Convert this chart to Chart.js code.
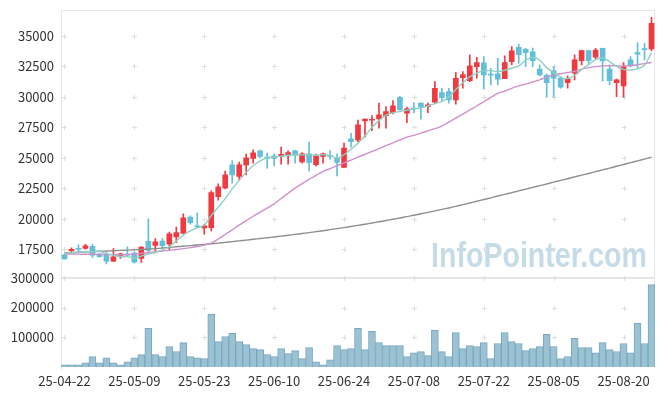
<!DOCTYPE html>
<html>
<head>
<meta charset="utf-8">
<script src="https://cdn.jsdelivr.net/npm/chart.js@4.4.1/dist/chart.umd.min.js"></script>
<style>
  html, body { margin: 0; padding: 0; background: #fff; }
  #wrap { width: 665px; height: 396px; }
</style>
</head>
<body>
<div id="wrap"><canvas id="chart" width="665" height="396"></canvas></div>
<script>
const dates = [
  '25-04-22','25-04-23','25-04-24','25-04-25','25-04-28','25-04-29','25-04-30','25-05-02','25-05-07','25-05-08',
  '25-05-09','25-05-12','25-05-13','25-05-14','25-05-15','25-05-16','25-05-19','25-05-20','25-05-21','25-05-22',
  '25-05-23','25-05-26','25-05-27','25-05-28','25-05-29','25-05-30','25-06-02','25-06-04','25-06-05','25-06-09',
  '25-06-10','25-06-11','25-06-12','25-06-13','25-06-16','25-06-17','25-06-18','25-06-19','25-06-20','25-06-23',
  '25-06-24','25-06-25','25-06-26','25-06-27','25-06-30','25-07-01','25-07-02','25-07-03','25-07-04','25-07-07',
  '25-07-08','25-07-09','25-07-10','25-07-11','25-07-14','25-07-15','25-07-16','25-07-17','25-07-18','25-07-21',
  '25-07-22','25-07-23','25-07-24','25-07-25','25-07-28','25-07-29','25-07-30','25-07-31','25-08-01','25-08-04',
  '25-08-05','25-08-06','25-08-07','25-08-08','25-08-11','25-08-12','25-08-13','25-08-14','25-08-18','25-08-19',
  '25-08-20','25-08-21','25-08-22','25-08-25','25-08-26'
];

const opens = [
  17030,17380,17530,17550,17720,17090,17090,16510,16890,17090,
  17170,16730,18150,17800,18170,17910,18500,18810,20140,19380,
  19250,19270,21800,22510,24420,23460,24420,24950,25560,25060,
  25160,25100,25180,25560,24660,25320,24440,25100,25180,24950,
  24200,26550,26450,28030,28080,28190,28460,28710,29970,28660,
  29050,29480,29200,29560,30350,30430,29750,31580,31330,32480,
  32800,31850,31880,31500,32890,34070,33910,33690,32290,31770,
  32130,31530,31170,31940,32980,33800,33250,33990,32290,31170,
  30900,33030,33630,33930,33930
];
const highs = [
  17060,17600,17850,17900,17910,17150,17220,17550,17170,17680,
  17250,17710,19980,18370,18370,18900,19300,20400,20230,20460,
  19520,22280,22860,23900,24770,24640,25300,25650,25640,25380,
  25320,25870,25560,25600,25420,26280,25300,25380,25590,25320,
  26200,27000,28100,28200,28460,29480,29200,29690,30050,29160,
  29530,29480,29480,31250,30710,30710,32000,32070,33440,33250,
  33300,32350,33170,33360,34120,34340,33990,34000,32620,31880,
  32480,31660,31720,33440,33850,33850,33990,34000,32620,31450,
  32810,33300,34450,34400,36530
];
const lows = [
  16680,17220,17250,17500,16810,16820,16290,16460,16730,16890,
  16350,16400,17170,17380,17650,17450,18040,18750,19550,19270,
  18730,19000,21520,22450,22910,23180,23600,24560,24980,24150,
  24330,24480,24480,24560,24560,23920,24300,24560,24880,23510,
  24200,25870,26330,26700,27230,27430,27430,28600,28930,27880,
  28710,28170,28710,29480,29610,29480,29400,30710,31250,31530,
  30630,30980,30980,31500,32620,32760,32480,32480,31720,29970,
  29970,30710,30710,31390,32620,32700,33090,31280,30980,30020,
  29970,32450,32350,33030,33800
];
const closes = [
  16700,17490,17480,17770,17010,16890,16510,16870,17110,17010,
  16430,17660,17400,18100,17780,18750,18850,20060,19680,19330,
  19410,22140,22620,23600,23600,24420,25000,25400,25100,24950,
  24940,25290,25430,25210,25320,24610,25160,25320,25120,24610,
  25790,26330,27700,28170,28130,28520,28790,29260,28930,29010,
  29000,29150,29340,30710,29940,29750,31530,31800,32540,32810,
  31800,31790,31450,32810,33770,33470,33630,32970,31800,31170,
  31530,30790,31470,33030,33800,32980,33850,32950,31330,31390,
  32480,32540,33500,33880,36040
];
const volumes = [
  7500,7500,7500,14000,35000,14000,31000,14000,7500,17500,
  31000,41500,130000,41500,35000,68500,51500,82000,35000,31000,
  28000,177500,85500,102500,113000,85500,75500,62000,58500,41500,
  35000,62000,45000,55000,28000,65000,17500,7500,24500,72000,
  58500,62000,130000,58500,119500,82000,72000,72000,72000,35000,
  48000,51500,38000,123000,51500,35000,116000,62000,72000,68500,
  82000,28000,79000,116000,85500,79000,55000,62000,68500,109500,
  68500,28000,35000,96000,65000,65000,48000,82000,58500,51500,
  79000,48000,147000,79000,277000
];

const ma5 = [
  17150,17200,17250,17300,17290,17330,17130,17010,16880,16880,
  16780,16920,17100,17220,17440,17710,18170,18650,18990,19240,
  19460,20250,20950,21650,22450,23150,23800,24350,24750,25000,
  25070,25130,25210,25230,25240,25220,25210,25260,25190,24970,
  25250,25700,26200,26800,27500,28050,28500,28700,28800,28900,
  29000,29100,29250,29450,29620,30000,30600,31150,31650,31950,
  32150,32150,32080,32180,32350,32550,33000,33250,33000,32400,
  32000,31600,31500,31750,32250,32650,33050,33200,32900,32500,
  32250,32200,32300,32600,33650
];
const ma20 = [
  17110,17100,17090,17080,17070,17060,17050,17040,17040,17050,
  17090,17150,17220,17290,17350,17410,17470,17540,17620,17720,
  17830,18000,18330,18700,19080,19470,19840,20200,20530,20870,
  21220,21660,22090,22510,22880,23220,23560,23880,24110,24340,
  24580,24810,25050,25280,25520,25750,25990,26220,26460,26690,
  26840,27020,27210,27390,27600,27930,28260,28590,28920,29250,
  29600,29950,30290,30480,30700,30900,31050,31230,31400,31620,
  31780,31900,32000,32100,32280,32400,32480,32540,32560,32540,
  32520,32560,32640,32730,32820
];
const ma60 = [
  17200,17220,17250,17270,17300,17320,17350,17370,17400,17420,
  17450,17470,17500,17540,17590,17640,17690,17740,17790,17840,
  17890,17940,17990,18050,18120,18180,18240,18310,18370,18430,
  18500,18567,18636,18707,18780,18855,18933,19013,19096,19181,
  19268,19358,19450,19545,19642,19742,19845,19950,20058,20169,
  20283,20400,20520,20640,20760,20880,21010,21150,21290,21430,
  21570,21710,21860,22000,22140,22280,22430,22570,22710,22850,
  23000,23140,23280,23430,23570,23710,23860,24010,24150,24300,
  24450,24600,24750,24890,25040
];

const priceTicks = [17500, 20000, 22500, 25000, 27500, 30000, 32500, 35000];
const volumeTicks = [100000, 200000, 300000];
const labelEvery = 10;

const UP = '#ef3a40';
const DOWN = '#63bfd9';
const candleColors = closes.map((c, i) => (c >= opens[i] ? UP : DOWN));
const FONT = { family: "'Noto Sans CJK KR', 'Noto Sans', sans-serif", size: 13 };

// frame, grid crosses and watermark behind the data
const backdrop = {
  id: 'backdrop',
  beforeDatasetsDraw(chart) {
    const { ctx, chartArea: a, scales } = chart;
    const x = scales.x, price = scales.price, vol = scales.vol;
    ctx.save();

    // watermark
    ctx.fillStyle = 'rgb(197,219,231)';
    ctx.font = "bold 35px 'Liberation Sans', Arial, sans-serif";
    const text = 'InfoPointer.com';
    const w = ctx.measureText(text).width;
    ctx.translate(431, 267);
    ctx.scale(216 / w, 1);
    ctx.textBaseline = 'alphabetic';
    ctx.fillText(text, 0, 0);
    ctx.setTransform(1, 0, 0, 1, 0, 0);

    // frame
    ctx.strokeStyle = '#e6e6e6';
    ctx.lineWidth = 1;
    ctx.beginPath();
    ctx.moveTo(a.left + 0.5, a.top); ctx.lineTo(a.left + 0.5, a.bottom + 3);
    ctx.moveTo(a.right - 0.5, a.top); ctx.lineTo(a.right - 0.5, a.bottom);
    ctx.moveTo(a.left, a.top + 0.5); ctx.lineTo(a.right, a.top + 0.5);
    ctx.stroke();
    ctx.fillStyle = '#e6e6e6';
    ctx.fillRect(a.left, Math.round(price.bottom) - 1, a.right - a.left, 2);

    // small '+' marks at grid intersections
    const xs = [];
    dates.forEach((d, i) => { if (i % labelEvery === 0) xs.push(Math.round(x.getPixelForValue(i)) + 0.5); });
    const ys = priceTicks.map(v => price.getPixelForValue(v))
      .concat(volumeTicks.map(v => vol.getPixelForValue(v)));
    ctx.strokeStyle = '#dedede';
    ctx.beginPath();
    xs.forEach(px => {
      ys.forEach(py => {
        const yy = Math.round(py) + 0.5;
        ctx.moveTo(px - 2.5, yy); ctx.lineTo(px + 2.5, yy);
        ctx.moveTo(px, yy - 2.5); ctx.lineTo(px, yy + 2.5);
      });
    });
    ctx.stroke();
    ctx.restore();
  }
};

const lineSet = (label, data, color) => ({
  type: 'line', label, data, yAxisID: 'price', order: 0,
  borderColor: color, borderWidth: 1.4, pointRadius: 0, tension: 0.35, fill: false
});

const fitY = (scale) => {
  scale.width = 61;
  scale.paddingTop = 0;
  scale.paddingBottom = 0;
};

new Chart(document.getElementById('chart'), {
  type: 'bar',
  data: {
    labels: dates,
    datasets: [
      lineSet('MA5', ma5, '#8fd0c2'),
      lineSet('MA20', ma20, '#cf8fcb'),
      lineSet('MA60', ma60, '#8e8e8e'),
      {
        label: 'body', yAxisID: 'price', order: 1, grouped: false,
        data: opens.map((o, i) => [o, closes[i]]),
        backgroundColor: candleColors, barThickness: 5, minBarLength: 1, borderWidth: 0
      },
      {
        label: 'wick', yAxisID: 'price', order: 2, grouped: false,
        data: lows.map((l, i) => [l, highs[i]]),
        backgroundColor: candleColors, barThickness: 1, borderWidth: 0
      },
      {
        label: 'volume', yAxisID: 'vol', order: 3, grouped: false,
        data: volumes,
        backgroundColor: '#9bc2d3', borderColor: '#78a7bf', borderWidth: 1,
        barPercentage: 1, categoryPercentage: 1
      }
    ]
  },
  options: {
    responsive: false,
    animation: false,
    devicePixelRatio: 1,
    layout: { padding: { top: 10, right: 10, left: 0, bottom: 0 } },
    plugins: { legend: { display: false }, tooltip: { enabled: false } },
    scales: {
      x: {
        type: 'category', offset: true,
        grid: { display: false, drawTicks: false }, border: { display: false },
        ticks: {
          autoSkip: false, maxRotation: 0, padding: 6, color: '#333', font: FONT,
          callback(value, index) { return index % labelEvery === 0 ? this.getLabelForValue(value) : ''; }
        },
        afterFit(scale) { scale.height = 29; scale.paddingLeft = 0; scale.paddingRight = 0; }
      },
      vol: {
        type: 'linear', position: 'left', stack: 'panes', stackWeight: 1, weight: 1,
        min: 0, max: 300000,
        grid: { display: false, drawTicks: false }, border: { display: false },
        ticks: { padding: 7, color: '#333', font: FONT, callback: (v) => String(v) },
        afterBuildTicks(scale) { scale.ticks = volumeTicks.map(v => ({ value: v })); },
        afterFit: fitY
      },
      price: {
        type: 'linear', position: 'left', stack: 'panes', stackWeight: 3, weight: 2,
        min: 15150, max: 37130,
        grid: { display: false, drawTicks: false }, border: { display: false },
        ticks: { padding: 7, color: '#333', font: FONT, callback: (v) => String(v) },
        afterBuildTicks(scale) { scale.ticks = priceTicks.map(v => ({ value: v })); },
        afterFit: fitY
      }
    }
  },
  plugins: [backdrop]
});
</script>
</body>
</html>
